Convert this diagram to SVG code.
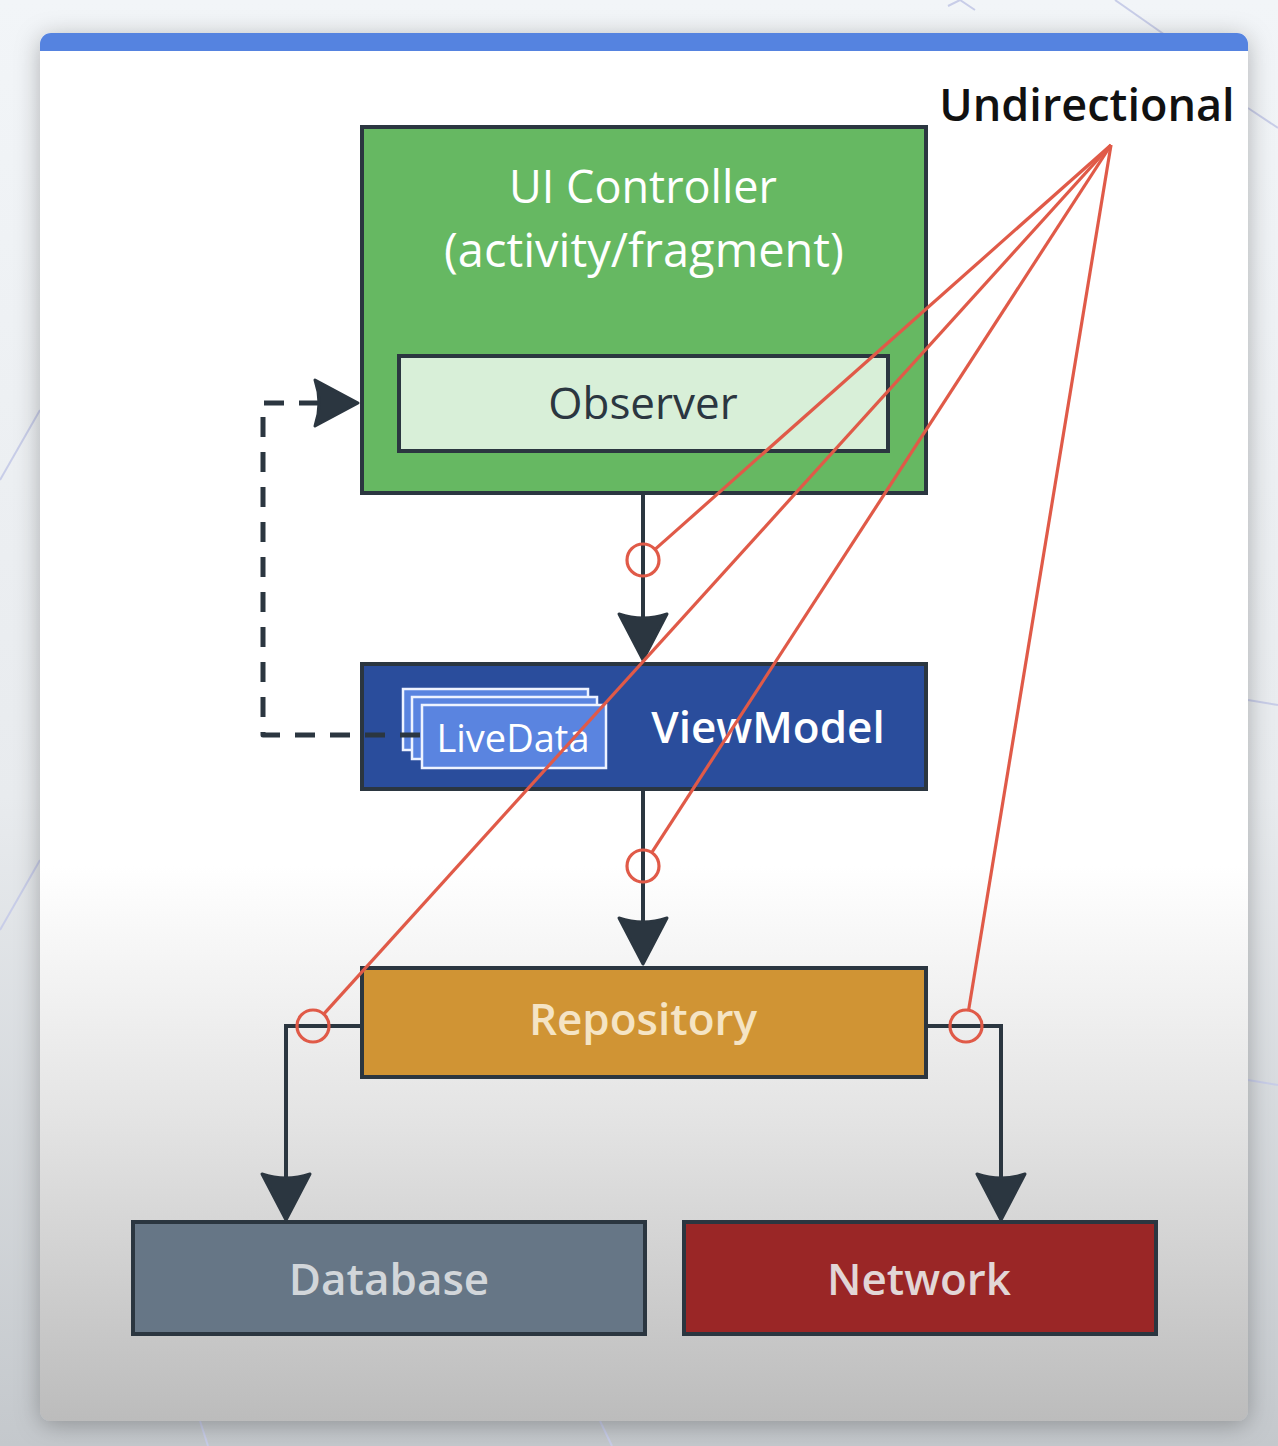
<svg xmlns="http://www.w3.org/2000/svg" width="1278" height="1446" viewBox="0 0 1278 1446">
<defs>
<linearGradient id="bg" x1="0" y1="0" x2="0" y2="1">
<stop offset="0" stop-color="#f2f5f8"/>
<stop offset="0.55" stop-color="#e8ebee"/>
<stop offset="1" stop-color="#c4c8cc"/>
</linearGradient>
<linearGradient id="card" gradientUnits="userSpaceOnUse" x1="0" y1="33" x2="0" y2="1421">
<stop offset="0" stop-color="#ffffff"/>
<stop offset="0.6" stop-color="#ffffff"/>
<stop offset="0.78" stop-color="#e4e4e4"/>
<stop offset="1" stop-color="#bcbcbc"/>
</linearGradient>
<filter id="shadow" x="-10%" y="-10%" width="120%" height="120%">
<feDropShadow dx="0" dy="4" stdDeviation="12" flood-color="#000" flood-opacity="0.28"/>
</filter>
<clipPath id="cardclip"><rect x="40" y="33" width="1208" height="1388" rx="11"/></clipPath>
</defs>
<style>
.box{stroke:#2b3640;stroke-width:4}
.lbl{font-family:"Open Sans","Noto Sans","DejaVu Sans",sans-serif;text-anchor:middle}
.conn{stroke:#2b3640;stroke-width:4;fill:none}
.head{fill:#2b3640;stroke:#2b3640;stroke-width:3;stroke-linejoin:round}
.red{stroke:#e05a48;stroke-width:3.2;fill:none}
.bgline{stroke:#c8cde8;stroke-width:2;fill:none}
</style>
<rect x="0" y="0" width="1278" height="1446" fill="url(#bg)"/>
<g id="background-lines">
<path class="bgline" d="M948 6 L960 0 L975 10"/>
<path class="bgline" d="M1115 0 L1165 35"/>
<path class="bgline" d="M1248 108 L1278 128"/>
<path class="bgline" d="M0 480 L40 410"/>
<path class="bgline" d="M0 930 L40 860"/>
<path class="bgline" d="M200 1421 L208 1446"/>
<path class="bgline" d="M600 1421 L612 1446"/>
<path class="bgline" d="M1248 700 L1278 705"/>
<path class="bgline" d="M1248 1080 L1278 1085"/>
</g>
<g id="card">
<rect x="40" y="33" width="1208" height="1388" rx="11" fill="url(#card)" filter="url(#shadow)"/>
<rect x="40" y="33" width="1208" height="18" fill="#5583e0" clip-path="url(#cardclip)"/>
</g>
<g id="ui-controller">
<rect class="box" x="362" y="127" width="564" height="366" fill="#66b862"/>
<text class="lbl" x="643" y="203" font-size="45" font-weight="500" fill="#ffffff">UI Controller</text>
<text class="lbl" x="644" y="267" font-size="47" font-weight="500" fill="#ffffff">(activity/fragment)</text>
</g>
<g id="observer">
<rect class="box" x="399" y="356" width="489" height="95" fill="#d8efd8"/>
<text class="lbl" x="643" y="419" font-size="44" font-weight="500" fill="#2b3640">Observer</text>
</g>
<g id="viewmodel">
<rect class="box" x="362" y="664" width="564" height="125" fill="#2a4d9c"/>
<text class="lbl" x="768" y="743" font-size="44" font-weight="600" fill="#ffffff">ViewModel</text>
</g>
<g id="livedata">
<rect x="403" y="689" width="185" height="61" fill="#5a84e0" stroke="#eef3ff" stroke-width="2.5"/>
<rect x="412" y="697" width="185" height="62" fill="#5a84e0" stroke="#eef3ff" stroke-width="2.5"/>
<rect x="422" y="705" width="184" height="63" fill="#5a84e0" stroke="#eef3ff" stroke-width="2.5"/>
<text class="lbl" x="513" y="752" font-size="38" fill="#ffffff">LiveData</text>
</g>
<g id="repository">
<rect class="box" x="362" y="968" width="564" height="109" fill="#d09434"/>
<text class="lbl" x="643" y="1035" font-size="44" font-weight="600" fill="#f5e4c4">Repository</text>
</g>
<g id="database">
<rect class="box" x="133" y="1222" width="512" height="112" fill="#667686"/>
<text class="lbl" x="389" y="1295" font-size="44" font-weight="600" fill="#d2d6da">Database</text>
</g>
<g id="network">
<rect class="box" x="684" y="1222" width="472" height="112" fill="#9a2626"/>
<text class="lbl" x="919" y="1295" font-size="44" font-weight="600" fill="#e2d6d6">Network</text>
</g>
<g id="connectors">
<path class="conn" d="M643 495 V620"/>
<path class="head" d="M619 614 Q643 622 667 614 L643 660 Z"/>
<path class="conn" d="M643 791 V925"/>
<path class="head" d="M619 918 Q643 926 667 918 L643 964 Z"/>
<path class="conn" d="M360 1026 H286 V1180"/>
<path class="head" d="M262 1174 Q286 1182 310 1174 L286 1220 Z"/>
<path class="conn" d="M928 1026 H1001 V1180"/>
<path class="head" d="M977 1174 Q1001 1182 1025 1174 L1001 1220 Z"/>
<path d="M420 735 H263 V403 H320" stroke="#2b3640" stroke-width="5" fill="none" stroke-dasharray="20 15" stroke-linejoin="round"/>
<path class="head" d="M315 380 Q323 403 315 426 L358 403 Z"/>
</g>
<g id="undirectional">
<text class="lbl" x="1087" y="121" font-size="45" font-weight="600" fill="#111111">Undirectional</text>
<path class="red" d="M1111 145 L655 549.4"/>
<path class="red" d="M1111 145 L651.7 852.6"/>
<path class="red" d="M1111 145 L323.7 1014.1"/>
<path class="red" d="M1111 145 L968.6 1010.2"/>
<circle class="red" cx="643" cy="560" r="16"/>
<circle class="red" cx="643" cy="866" r="16"/>
<circle class="red" cx="313" cy="1026" r="16"/>
<circle class="red" cx="966" cy="1026" r="16"/>
</g>
</svg>
